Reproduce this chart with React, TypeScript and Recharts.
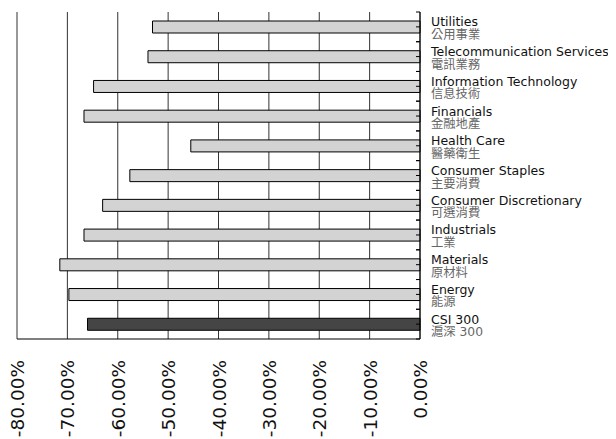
import React from "react";
import { BarChart, Bar, XAxis, YAxis, CartesianGrid, Cell } from "recharts";

const categoriesEn = [
  "Utilities",
  "Telecommunication Services",
  "Information Technology",
  "Financials",
  "Health Care",
  "Consumer Staples",
  "Consumer Discretionary",
  "Industrials",
  "Materials",
  "Energy",
  "CSI 300",
];
const categoriesZh = [
  "公用事業",
  "電訊業務",
  "信息技術",
  "金融地產",
  "醫藥衛生",
  "主要消費",
  "可選消費",
  "工業",
  "原材料",
  "能源",
  "滬深 300",
];
const values = [-53.1, -54.0, -64.8, -66.7, -45.5, -57.6, -63.0, -66.7, -71.5, -69.7, -66.0];
const xTicks = [-80, -70, -60, -50, -40, -30, -20, -10, 0];

const data = categoriesEn.map((c, i) => ({ name: c, zh: categoriesZh[i], value: values[i] }));

const W = 600;
const H = 431;
const BAND = 327 / 11;
const FONT = "'DejaVu Sans', 'Noto Sans CJK TC', sans-serif";

const RightTick = (props: any) => {
  const { x, y, payload, index } = props;
  const zh = categoriesZh[index] ?? "";
  return (
    <g>
      <line x1={x - 4} x2={x} y1={y} y2={y} stroke="#000" />
      <line x1={x - 4} x2={x} y1={y - BAND / 2} y2={y - BAND / 2} stroke="#000" />
      <line x1={x - 4} x2={x} y1={y + BAND / 2} y2={y + BAND / 2} stroke="#000" />
      <text x={x + 11} y={y - 0.5} fontSize={12.5} fill="#111" fontFamily={FONT}>
        {payload.value}
      </text>
      <text x={x + 11} y={y + 12} fontSize={12.3} fill="#666" fontFamily={FONT}>
        {zh}
      </text>
    </g>
  );
};

const BottomTick = (props: any) => {
  const { x, y, payload } = props;
  return (
    <text
      x={0}
      y={0}
      transform={`translate(${x + 7},${y + 21}) rotate(-90)`}
      textAnchor="end"
      fontSize={18.5}
      fill="#111"
      fontFamily={FONT}
    >
      {`${payload.value.toFixed(2)}%`}
    </text>
  );
};

export default function App() {
  return (
    <BarChart
      width={W}
      height={H}
      data={data}
      layout="vertical"
      margin={{ top: 4, left: 9, right: 0, bottom: 0 }}
      barCategoryGap={0}
    >
      <CartesianGrid horizontal={false} vertical={true} stroke="#333" />
      <XAxis
        type="number"
        domain={[-80, 0]}
        ticks={xTicks}
        interval={0}
        height={100}
        axisLine={{ stroke: "#000" }}
        tickLine={false}
        tickSize={0}
        tickMargin={0}
        tick={<BottomTick />}
      />
      <YAxis
        type="category"
        dataKey="name"
        orientation="right"
        width={188}
        axisLine={{ stroke: "#000" }}
        tickLine={false}
        tickSize={0}
        tickMargin={0}
        interval={0}
        tick={<RightTick />}
      />
      <Bar dataKey="value" barSize={12} stroke="#000" strokeWidth={1} isAnimationActive={false}>
        {data.map((d, i) => (
          <Cell key={i} fill={d.name === "CSI 300" ? "#454545" : "#d3d3d3"} />
        ))}
      </Bar>
    </BarChart>
  );
}
